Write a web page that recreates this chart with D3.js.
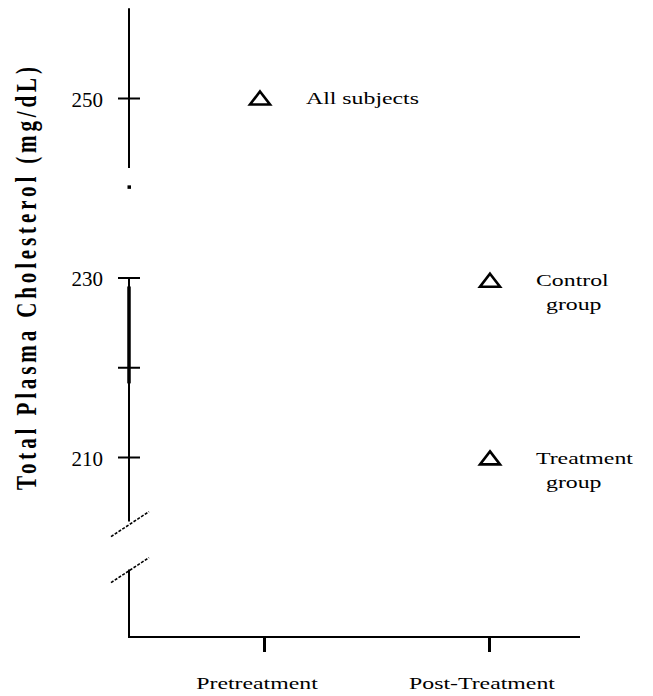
<!DOCTYPE html>
<html>
<head>
<meta charset="utf-8">
<script src="https://cdn.jsdelivr.net/npm/d3@7"></script>
<style>
  body { margin: 0; background: #fff; }
  svg { display: block; }
  text { font-family: "Liberation Serif", "Times New Roman", serif; fill: #000; }
</style>
</head>
<body>
<svg id="chart" width="653" height="696"></svg>
<script>
// data
var phases = ["Pretreatment", "Post-Treatment"];
var groupLines = [["All subjects"], ["Control", "group"], ["Treatment", "group"]];
var groupPhase = ["Pretreatment", "Post-Treatment", "Post-Treatment"];
var cholesterol = [250, 229.7, 209.9];
var yTicks = [210, 220, 230, 250];
var yTickLabels = ["210", "", "230", "250"];
var yTitle = "Total Plasma Cholesterol (mg/dL)";

var svg = d3.select("#chart");
var stretch = 1.4; // text in the scan is drawn wide

var y = d3.scaleLinear().domain([210, 250]).range([457, 98]);
var x = d3.scalePoint().domain(phases).range([264, 489]);

var axisX = 129, baseY = 637;

// y axis line (broken), ticks
var yg = svg.append("g").attr("transform", "translate(" + axisX + ",0)");

[[260, 242.2], [230, 202.8]].forEach(function (s) {
  yg.append("line").attr("x1", 0).attr("x2", 0)
    .attr("y1", y(s[0])).attr("y2", y(s[1]))
    .attr("stroke", "#000").attr("stroke-width", 2);
});
yg.append("line").attr("x1", 0).attr("x2", 0)
  .attr("y1", y(229)).attr("y2", y(218.2))
  .attr("stroke", "#000").attr("stroke-width", 3.5);
yg.append("rect").attr("x", -1.5).attr("y", y(240.1) - 1.5)
  .attr("width", 3.5).attr("height", 3.5).attr("fill", "#000");

var left = yg.append("g")
  .call(d3.axisLeft(y).tickValues(yTicks).tickSize(11).tickPadding(15)
    .tickFormat(function (d, i) { return yTickLabels[i]; }));
var right = yg.append("g")
  .call(d3.axisRight(y).tickValues(yTicks).tickSize(11).tickFormat(""));
[left, right].forEach(function (a) {
  a.select(".domain").remove();
  a.selectAll(".tick line").attr("stroke", "#000").attr("stroke-width", 2);
});
left.selectAll(".tick text")
  .attr("font-size", 21)
  .attr("font-family", "Liberation Serif")
  .attr("dy", "0.4em");

// lower piece of the axis after the break
var breakTop = y(202.8);
svg.append("line").attr("x1", axisX).attr("x2", axisX)
  .attr("y1", breakTop + 48).attr("y2", baseY)
  .attr("stroke", "#000").attr("stroke-width", 2);

// break marks
[breakTop + 3, breakTop + 49].forEach(function (c) {
  svg.append("line")
    .attr("x1", axisX - 18).attr("y1", c + 12)
    .attr("x2", axisX + 20).attr("y2", c - 13)
    .attr("stroke", "#000").attr("stroke-width", 1.6)
    .attr("stroke-dasharray", "3 1.5");
});

// x axis
svg.append("line").attr("x1", axisX - 1).attr("x2", 580)
  .attr("y1", baseY).attr("y2", baseY)
  .attr("stroke", "#000").attr("stroke-width", 2);
var xg = svg.append("g").attr("transform", "translate(0," + baseY + ")")
  .call(d3.axisBottom(x).tickSize(15).tickFormat(""));
xg.select(".domain").remove();
xg.selectAll(".tick line").attr("stroke", "#000").attr("stroke-width", 3);

svg.selectAll(".xlab").data(phases).enter().append("text")
  .attr("class", "xlab")
  .attr("transform", function (d) { return "translate(" + (x(d) - 7) + ",689) scale(" + stretch + ",1)"; })
  .attr("text-anchor", "middle")
  .attr("font-size", 17)
  .text(function (d) { return d; });

// y title
svg.append("text")
  .attr("transform", "translate(36,278.5) scale(" + stretch + ",1) rotate(-90)")
  .attr("text-anchor", "middle")
  .attr("font-size", 21)
  .attr("font-weight", "bold")
  .attr("textLength", 423)
  .attr("lengthAdjust", "spacing")
  .text(yTitle);

// open triangles
var triangle = {
  draw: function (ctx, size) {
    var w = size, h = size * 0.65;
    ctx.moveTo(0, -h / 2);
    ctx.lineTo(w / 2, h / 2);
    ctx.lineTo(-w / 2, h / 2);
    ctx.closePath();
  }
};

var pts = svg.selectAll(".pt").data(cholesterol).enter().append("g")
  .attr("class", "pt")
  .attr("transform", function (d, i) {
    var px = x(groupPhase[i]) + (i === 0 ? -4 : 1);
    return "translate(" + px + "," + y(d) + ")";
  });

pts.append("path")
  .attr("d", d3.symbol(triangle, 20)())
  .attr("fill", "#fff")
  .attr("stroke", "#000")
  .attr("stroke-width", 2.6)
  .attr("stroke-linejoin", "miter");

pts.each(function (d, i) {
  var g = d3.select(this);
  groupLines[i].forEach(function (line, j) {
    g.append("text")
      .attr("transform", "translate(" + (46 + j * 10) + "," + (6 + j * 24) + ") scale(" + stretch + ",1)")
      .attr("font-size", 17)
      .text(line);
  });
});
</script>
</body>
</html>
